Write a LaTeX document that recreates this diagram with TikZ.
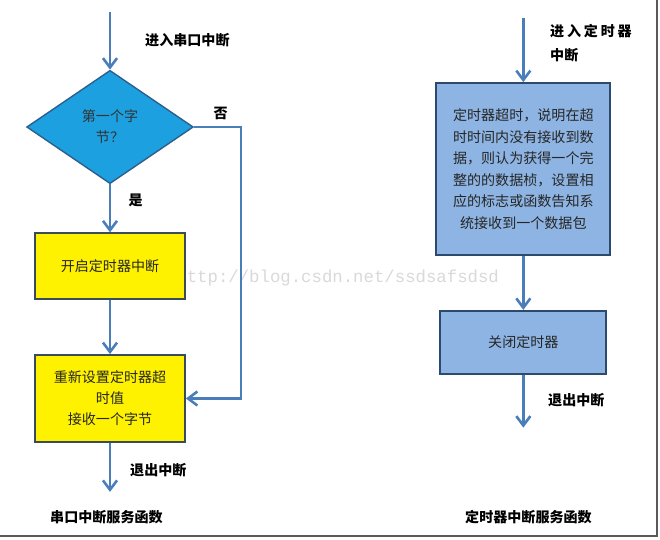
\documentclass[tikz,border=0pt]{standalone}
\usepackage{fontspec}
\setmainfont{Noto Sans CJK SC}
\newfontfamily\markfont{Liberation Mono}
\usepackage{tikz}
\usetikzlibrary{shapes.geometric, arrows.meta, positioning}

\definecolor{flowline}{HTML}{4A7EBB}
\definecolor{decfill}{HTML}{1CA0E0}
\definecolor{decborder}{HTML}{2D5F8C}
\definecolor{boxborder}{HTML}{3A4B5C}
\definecolor{bluefill}{HTML}{8DB4E2}
\definecolor{blueborder}{HTML}{2C4A6E}

\begin{document}
\begin{tikzpicture}[
  font=\fontsize{12}{18}\selectfont,
  decision/.style={diamond, draw=decborder, fill=decfill, line width=1.2pt, minimum width=5cm, minimum height=3.4cm, inner sep=0pt, align=center, text=black!80},
  yellowbox/.style={rectangle, draw=boxborder, fill=yellow, line width=1.5pt, minimum width=4.5cm, align=center, text=black!85},
  bluebox/.style={rectangle, draw=blueborder, fill=bluefill, line width=1.5pt, align=center, text=black!85},
  note/.style={anchor=west, align=left, inner sep=0pt, font=\fontsize{12}{18}\selectfont\bfseries},
  arrow/.style={line width=2.2pt, draw=flowline, -{Straight Barb[length=8pt, width=12pt]}},
  frame/.style={draw=gray!70!black, line width=1.5pt}
]
\useasboundingbox (0,0) rectangle (19.8,-16.2);

% Watermark
\node (mark) [text=gray!30, font=\markfont\fontsize{14.8}{16}\selectfont] at (10.13,-8.34) {http://blog.csdn.net/ssdsafsdsd};

% Serial interrupt
\coordinate (uartin) at (3.3,-0.36);
\node (first) [decision] at (3.3,-3.81) {第一个字\\节？};
\node (timeron) [yellowbox, minimum height=1.98cm, below=1.44cm of first] {开启定时器中断};
\node (reset) [yellowbox, minimum height=2.61cm, below=1.62cm of timeron] {重新设置定时器超\\时值\\接收一个字节};
\path (reset.south) ++(0,-1.47) coordinate (uartout);

% Timer interrupt
\coordinate (timerin) at (15.7,-0.54);
\node (timeout) [bluebox, minimum width=5.22cm, minimum height=5.16cm, font=\fontsize{12}{18.4}\selectfont] at (15.7,-5.07) {定时器超时，说明在超\\时时间内没有接收到数\\据，则认为获得一个完\\整的的数据桢，设置相\\应的标志或函数告知系\\统接收到一个数据包};
\node (timeroff) [bluebox, minimum width=4.98cm, minimum height=1.89cm, below=1.62cm of timeout] {关闭定时器};
\path (timeroff.south) ++(0,-1.59) coordinate (timerout);

% Labels
\node (uartenter) [note] at (4.35,-1.2) {进入串口中断};
\node (no) [note] at (6.4,-3.39) {否};
\node (yes) [note] at (3.85,-6.0) {是};
\node (uartexit) [note] at (3.9,-14.1) {退出中断};
\node (uarttitle) [note] at (1.5,-15.51) {串口中断服务函数};
\node (timerenter) [note, font=\fontsize{12}{20}\selectfont\bfseries] at (16.5,-1.29) {{\addfontfeature{LetterSpace=20}进入定时器}\\中断};
\node (timerexit) [note] at (16.44,-12.0) {退出中断};
\node (timertitle) [note] at (13.95,-15.51) {定时器中断服务函数};

% Arrows
\draw [arrow] (uartin) -- (first);
\draw [arrow] (first) -- (timeron);
\draw [arrow] (timeron) -- (reset);
\draw [arrow] (first.east) -- ++(1.41,0) |- (reset.east);
\draw [arrow] (reset) -- (uartout);
\draw [arrow] (timerin) -- (timeout);
\draw [arrow] (timeout) -- (timeroff);
\draw [arrow] (timeroff) -- (timerout);

% Frame
\draw [frame] (19.7,0) -- (19.7,-16.08) -- (0,-16.08);
\end{tikzpicture}
\end{document}
